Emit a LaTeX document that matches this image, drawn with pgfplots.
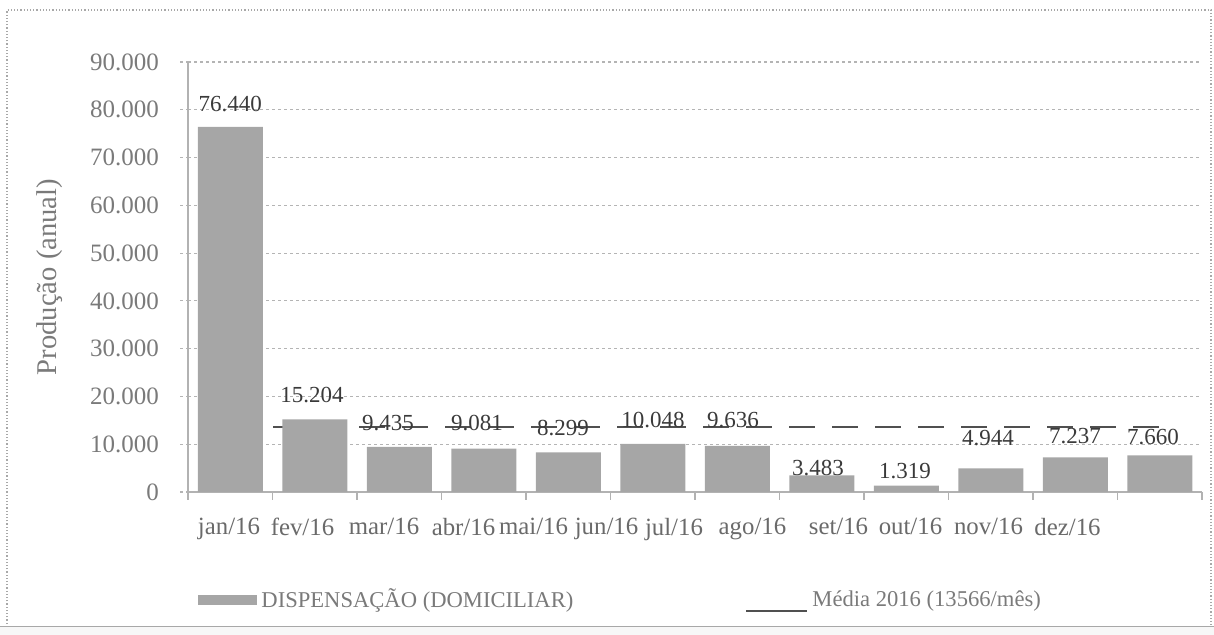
\documentclass[border=0pt]{standalone}
\usepackage{fontspec}
\setmainfont{Liberation Serif}
\usepackage{pgfplots}
\pgfplotsset{compat=1.18}
\definecolor{barfill}{HTML}{A6A6A6}
\definecolor{meanline}{HTML}{505050}
\definecolor{ticktext}{HTML}{7A7A7A}
\definecolor{cattext}{HTML}{6A6A6A}
\definecolor{labtext}{HTML}{3A3A3A}
\definecolor{gridc}{HTML}{B4B4B4}
\definecolor{framec}{HTML}{A8A8A8}
\begin{document}
\begin{tikzpicture}
\path[use as bounding box] (0,0) rectangle (607pt,317.5pt);
\fill[gray!6] (0,0) rectangle (607pt,4pt);
\draw[framec, line width=0.5pt] (0,4pt) -- (607pt,4pt);
\draw[framec, densely dotted, line width=0.6pt] (3.5pt,4pt) -- (3.5pt,312.5pt) -- (605.5pt,312.5pt) -- (605.5pt,4pt);
\begin{axis}[
  at={(94pt,71.5pt)}, anchor=south west,
  width=507pt, height=215pt, scale only axis,
  xmin=-0.5, xmax=11.5, ymin=0, ymax=90000,
  axis x line*=bottom, axis y line*=left,
  axis line style={gray!60, line width=0.6pt, -},
  tick align=outside, major tick length=4pt,
  scaled y ticks=false,
  ytick={0,10000,...,90000},
  ytick style={gridc, line width=0.6pt, dash pattern=on 1.5pt off 1.5pt},
  ymajorgrids,
  grid style={gridc, dash pattern=on 1.5pt off 1.5pt, line width=0.6pt},
  yticklabel style={font=\fontsize{12.5}{14}\selectfont, text=ticktext, xshift=-7pt},
  /pgf/number format/fixed,
  /pgf/number format/precision=0,
  /pgf/number format/1000 sep={.},
  /pgf/number format/assume math mode=true,
  xtick={-0.5,0.5,...,11.5},
  xticklabels={},
  xtick style={gray!60, line width=0.6pt},
  extra x ticks={-0.015,0.855,1.820,2.760,3.589,4.453,5.251,6.180,7.198,8.050,8.973,9.908},
  extra x tick labels={jan/16,fev/16,mar/16,abr/16,mai/16,jun/16,jul/16,ago/16,set/16,out/16,nov/16,dez/16},
  extra x tick style={xtick style={draw=none}, xticklabel style={font=\fontsize{12.4}{14}\selectfont, text=cattext, yshift=-5.5pt}},
  ylabel={Produção (anual)},
  ylabel style={at={(axis description cs:-0.136,0.5)}, anchor=center, font=\fontsize{14.3}{16}\selectfont, text=ticktext},
  legend columns=2,
  legend style={at={(axis description cs:0.0099,-0.251)}, anchor=west, draw=none, fill=none, inner sep=0pt,
    font=\fontsize{11.3}{13}\selectfont, text=ticktext,
    /tikz/every even column/.append style={column sep=84pt}},
  legend cell align=left,
]
\addplot[meanline, line width=1pt, dash pattern=on 13pt off 8.5pt, forget plot]
  coordinates {(0,13566) (11,13566)};
\addplot[ybar, bar width=32.5pt, bar shift=0pt, fill=barfill, draw=none,
  legend image code/.code={\fill[barfill] (0pt,-2.5pt) rectangle (29.5pt,2.5pt);}]
  coordinates {(0,76440) (1,15204) (2,9435) (3,9081) (4,8299) (5,10048)
               (6,9636) (7,3483) (8,1319) (9,4944) (10,7237) (11,7660)};
\addlegendentry{DISPENSAÇÃO (DOMICILIAR)}
\addlegendimage{legend image code/.code={\draw[meanline, line width=1pt] (0pt,-5.5pt) -- (30.5pt,-5.5pt);}}
\addlegendentry{Média 2016 (13566/mês)}
\addplot[only marks, mark=*, mark size=0pt, mark options={draw=none, fill=none}, forget plot,
  point meta=explicit, nodes near coords,
  every node near coord/.append style={anchor=center, font=\fontsize{11.5}{13}\selectfont, text=labtext}]
  coordinates {(0,81170)[76440] (0.967,20290)[15204] (1.867,14435)[9435] (2.920,14435)[9081]
               (3.938,13400)[8299] (5.003,15060)[10048] (5.950,15060)[9636] (6.956,5020)[3483]
               (7.985,4390)[1319] (8.967,11300)[4944] (9.997,11715)[7237] (10.920,11500)[7660]};
\end{axis}
\end{tikzpicture}
\end{document}
